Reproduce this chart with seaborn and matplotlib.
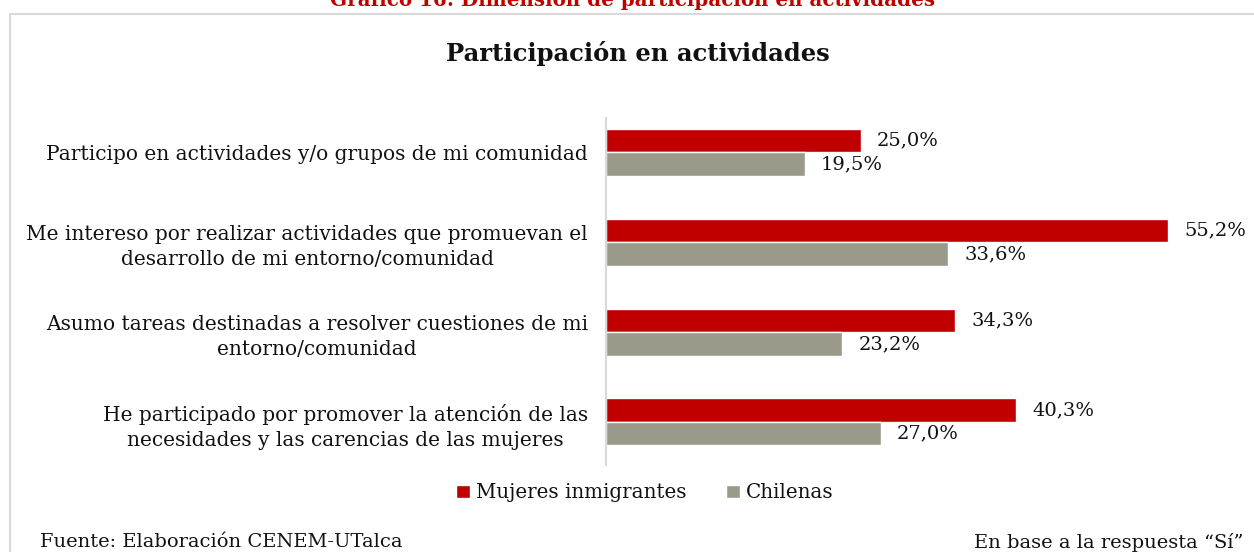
import matplotlib
matplotlib.use("Agg")
import matplotlib.pyplot as plt
import seaborn as sns
import pandas as pd
from matplotlib.patches import Rectangle

categories = [
    "Participo en actividades y/o grupos de mi comunidad",
    "Me intereso por realizar actividades que promuevan el\ndesarrollo de mi entorno/comunidad",
    "Asumo tareas destinadas a resolver cuestiones de mi\nentorno/comunidad",
    "He participado por promover la atención de las\nnecesidades y las carencias de las mujeres",
]
series_names = ["Mujeres inmigrantes", "Chilenas"]
inmigrantes = [25.0, 55.2, 34.3, 40.3]
chilenas = [19.5, 33.6, 23.2, 27.0]
colors = ["#C00000", "#9B9A8A"]

rows = []
for c, a, b in zip(categories, inmigrantes, chilenas):
    rows.append({"cat": c, "serie": series_names[0], "val": a})
    rows.append({"cat": c, "serie": series_names[1], "val": b})
df = pd.DataFrame(rows)

sns.set_theme(style="white")
plt.rcParams["font.family"] = ["DejaVu Serif"]
plt.rcParams["text.color"] = "#111111"
plt.rcParams["ytick.color"] = "#111111"

W, H = 1254, 552
fig = plt.figure(figsize=(W / 100, H / 100), dpi=100)

# outer box
fig.patches.append(Rectangle((10 / W, -0.1), 1.2, 1 - 14 / H + 0.1, transform=fig.transFigure,
                             fill=False, edgecolor="#d9d9d9", linewidth=1.5))

ax = fig.add_axes([606 / W, (H - 465) / H, (1217 - 606) / W, 347 / H])
sns.barplot(data=df, y="cat", x="val", hue="serie", hue_order=series_names,
            palette=colors, orient="h", width=0.523, ax=ax, saturation=1)

ax.set_xlim(0, 60)
ax.set_ylim(3.479, -0.384)
ax.set_xlabel("")
ax.set_ylabel("")
ax.set_xticks([])
for s in ["top", "right", "bottom"]:
    ax.spines[s].set_visible(False)
ax.spines["left"].set_color("#d9d9d9")
ax.spines["left"].set_linewidth(1.5)
ax.tick_params(axis="y", length=0, pad=13)
ax.set_yticks(range(len(categories)))
ax.set_yticklabels(categories, fontsize=14.5, ha="right", multialignment="center",
                   linespacing=1.37)

for cont in ax.containers:
    vals = [p.get_width() for p in cont]
    ax.bar_label(cont, labels=[f"{v:.1f}%".replace(".", ",") for v in vals],
                 padding=11.5, fontsize=14)

sns.move_legend(ax, loc="center", bbox_to_anchor=(644.5 / W, 1 - 493 / H),
                bbox_transform=fig.transFigure, ncol=2, frameon=False, title=None,
                fontsize=14.3, handlelength=0.7, handleheight=0.6, handletextpad=0.3,
                columnspacing=2.0)

fig.text(0.5 * (447 + 828) / W, 1 - 53 / H, "Participación en actividades",
         ha="center", va="center", fontsize=17.5, fontweight="bold")
fig.text(0.5 * (330 + 935) / W, 1 - 6 / H, "Gráfico 16: Dimensión de participación en actividades",
         ha="center", va="baseline", fontsize=14.3, fontweight="bold", color="#C00000")
fig.text(40 / W, 1 - 542 / H, "Fuente: Elaboración CENEM-UTalca", ha="left", va="center", fontsize=14)
fig.text(1243 / W, 1 - 542 / H, "En base a la respuesta “Sí”", ha="right", va="center", fontsize=14)

fig.savefig("out.png", dpi=100)
